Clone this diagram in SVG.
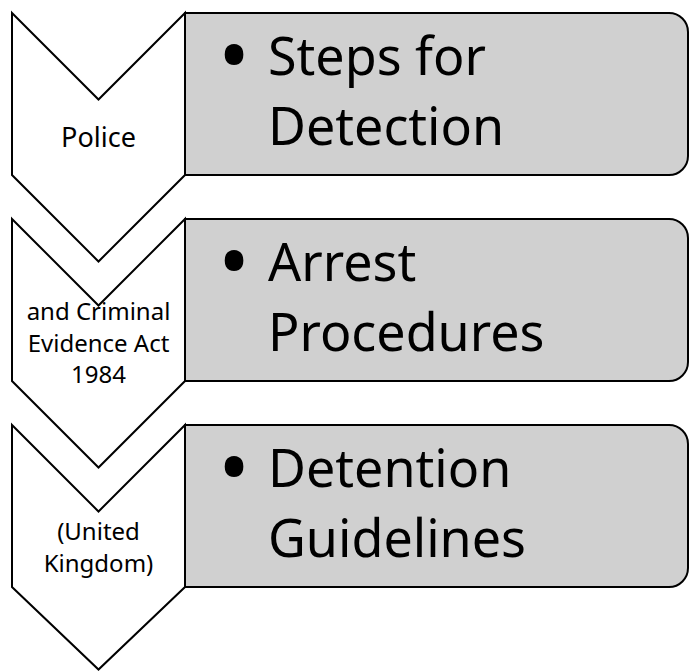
<svg xmlns="http://www.w3.org/2000/svg" width="690" height="671" viewBox="0 0 690 671">
  <style>
    .chev { fill: #ffffff; stroke: #000000; stroke-width: 2; stroke-linejoin: miter; }
    .box { fill: #d0d0d0; stroke: #000000; stroke-width: 2; }
    .lbl { font-family: "Noto Sans", "Open Sans", sans-serif; fill: #000000; text-anchor: middle; }
    .big { font-family: "Noto Sans", "Open Sans", sans-serif; fill: #000000; font-size: 52px; }
    .dot { font-family: "Noto Sans", "Open Sans", sans-serif; fill: #000000; font-size: 84px; text-anchor: middle; }
  </style>

  <!-- Step 1 -->
  <g id="step1">
    <path class="box" d="M185,13 H669 A19,19 0 0 1 688,32 V156 A19,19 0 0 1 669,175 H185 Z"/>
    <path class="chev" d="M12,13 L98.5,99.5 L185,13 L185,175 L98.5,261.5 L12,175 Z"/>
    <text class="lbl" x="98.5" y="146.5" font-size="27">Police</text>
    <text class="dot" x="234" y="85">•</text>
    <text class="big" x="268" y="75">Steps for</text>
    <text class="big" x="268" y="145">Detection</text>
  </g>

  <!-- Step 2 -->
  <g id="step2">
    <path class="box" d="M185,219 H669 A19,19 0 0 1 688,238 V362 A19,19 0 0 1 669,381 H185 Z"/>
    <path class="chev" d="M12,219 L98.5,305.5 L185,219 L185,381 L98.5,467.5 L12,381 Z"/>
    <text class="lbl" x="98.5" y="320" font-size="24">and Criminal</text>
    <text class="lbl" x="98.5" y="351.5" font-size="24">Evidence Act</text>
    <text class="lbl" x="98.5" y="382.5" font-size="24">1984</text>
    <text class="dot" x="234" y="291">•</text>
    <text class="big" x="268" y="281">Arrest</text>
    <text class="big" x="268" y="351">Procedures</text>
  </g>

  <!-- Step 3 -->
  <g id="step3">
    <path class="box" d="M185,425 H669 A19,19 0 0 1 688,444 V568 A19,19 0 0 1 669,587 H185 Z"/>
    <path class="chev" d="M12,425 L98.5,511.5 L185,425 L185,587 L98.5,669.5 L12,587 Z"/>
    <text class="lbl" x="98.5" y="540" font-size="24">(United</text>
    <text class="lbl" x="98.5" y="571.5" font-size="24">Kingdom)</text>
    <text class="dot" x="234" y="497">•</text>
    <text class="big" x="268" y="487">Detention</text>
    <text class="big" x="268" y="557">Guidelines</text>
  </g>

  <g id="connectors"></g>
</svg>
